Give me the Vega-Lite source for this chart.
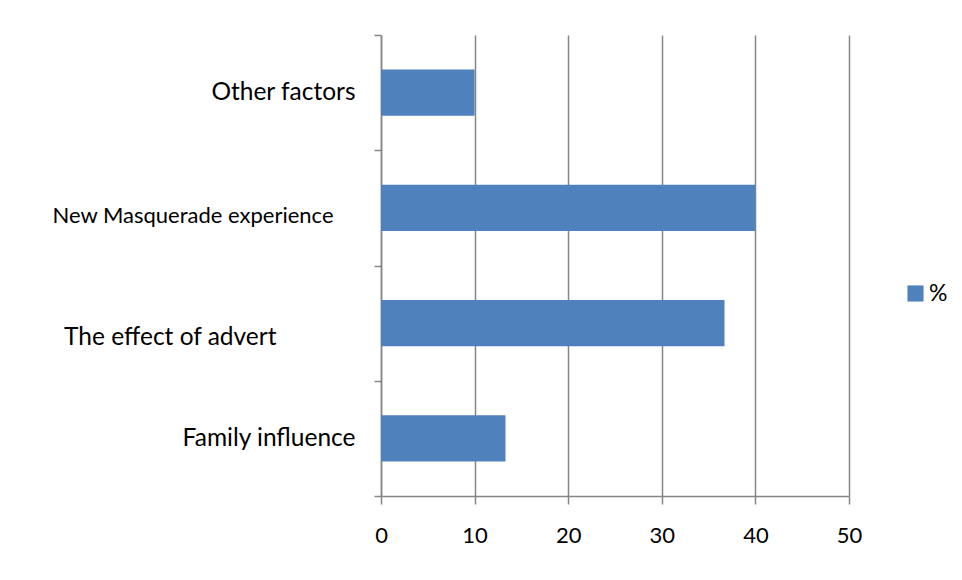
{
  "$schema": "https://vega.github.io/schema/vega-lite/v6.json",
  "autosize": {"type": "none"},
  "width": 468,
  "height": 461,
  "padding": {"left": 381, "top": 35, "right": 113, "bottom": 84},
  "background": "white",
  "data": {
    "values": [
      {"factor": "Other factors", "pct": 10, "series": "%"},
      {"factor": "New Masquerade experience", "pct": 40, "series": "%"},
      {"factor": "The effect of advert", "pct": 36.7, "series": "%"},
      {"factor": "Family influence", "pct": 13.3, "series": "%"}
    ]
  },
  "mark": {"type": "bar", "color": "#4F81BD", "height": {"band": 0.4}},
  "encoding": {
    "y": {
      "field": "factor",
      "type": "nominal",
      "sort": null,
      "title": null,
      "scale": {"paddingInner": 0, "paddingOuter": 0},
      "axis": {
        "tickBand": "extent",
        "tickSize": 7,
        "tickColor": "#868686",
        "domainColor": "#868686",
        "domainWidth": 1.5,
        "tickWidth": 1.5,
        "grid": false,
        "labelFont": "Lato",
        "labelColor": "#000000",
        "labelFontSize": {"condition": {"test": "datum.value == 'New Masquerade experience'", "value": 22}, "value": 24.5},
        "labelPadding": {"condition": [
          {"test": "datum.value == 'New Masquerade experience'", "value": 41},
          {"test": "datum.value == 'The effect of advert'", "value": 98}
        ], "value": 19},
        "labelOffset": {"condition": [
          {"test": "datum.value == 'New Masquerade experience'", "value": 8},
          {"test": "datum.value == 'The effect of advert'", "value": 14}
        ], "value": 0},
        "labelLimit": 400
      }
    },
    "x": {
      "field": "pct",
      "type": "quantitative",
      "title": null,
      "scale": {"domain": [0, 50], "nice": false},
      "axis": {
        "values": [0, 10, 20, 30, 40, 50],
        "grid": true,
        "gridColor": "#868686",
        "gridWidth": 1.5,
        "tickColor": "#868686",
        "tickWidth": 1.5,
        "tickSize": 8,
        "domainColor": "#868686",
        "domainWidth": 1.5,
        "labelFont": "Lato",
        "labelColor": "#000000",
        "labelFontSize": 22,
        "labelPadding": 21,
        "labelFlush": false
      }
    },
    "color": {
      "field": "series",
      "type": "nominal",
      "title": null,
      "scale": {"range": ["#4F81BD"]},
      "legend": {
        "orient": "none",
        "legendX": 523,
        "legendY": 247,
        "symbolType": "square",
        "symbolSize": 260,
        "symbolStrokeWidth": 0,
        "labelFont": "Lato",
        "labelFontSize": 23,
        "labelColor": "#000000",
        "labelOffset": 2
      }
    }
  },
  "config": {"view": {"stroke": null}}
}
